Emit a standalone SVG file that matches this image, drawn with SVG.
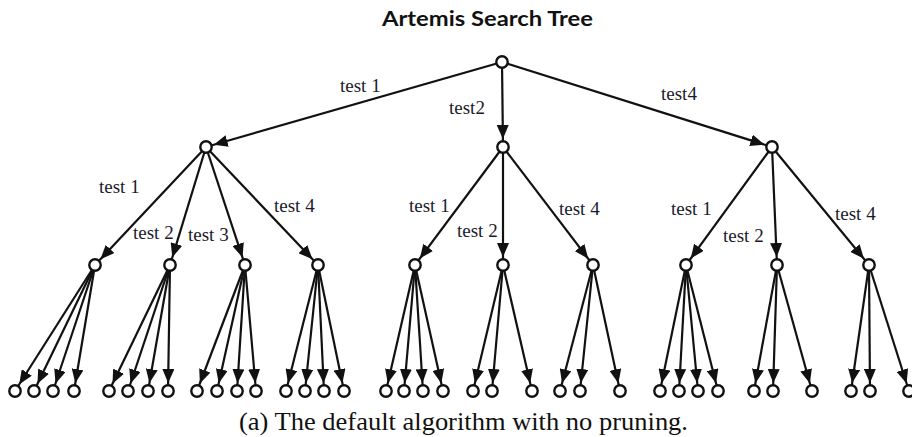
<svg xmlns="http://www.w3.org/2000/svg" width="912" height="437" viewBox="0 0 912 437">
  <style>
    .edge { stroke: #111; stroke-width: 2.2; fill: none; marker-end: url(#ah); }
    .node { fill: #fff; stroke: #111; stroke-width: 2.4; }
    .lbl { font-family: "Liberation Serif", "Times New Roman", serif; font-size: 19px; fill: #1a1a2a; }
    .title { font-family: Lato, "Liberation Sans", sans-serif; font-weight: bold; font-size: 20px; fill: #111; }
    .caption { font-family: "Liberation Serif", "Times New Roman", serif; font-size: 26px; fill: #111; }
  </style>
  <defs>
    <!-- filled arrowhead; tip sits 8px before the line end (the node centre) -->
    <marker id="ah" viewBox="0 0 14 12" refX="22" refY="6" markerWidth="14" markerHeight="12" markerUnits="userSpaceOnUse" orient="auto">
      <path d="M0,0 L14,6 L0,12 z" fill="#111"/>
    </marker>
  </defs>
  <rect width="912" height="437" fill="#fff"/>

  <text class="title" x="487.5" y="26" text-anchor="middle" textLength="211" lengthAdjust="spacingAndGlyphs">Artemis Search Tree</text>

  <g id="connectors">
    <!-- root to level 1 -->
    <line class="edge" x1="502" y1="62" x2="206" y2="147"/>
    <line class="edge" x1="502" y1="62" x2="503" y2="147"/>
    <line class="edge" x1="502" y1="62" x2="772" y2="147"/>
    <!-- level 1 to level 2 -->
    <line class="edge" x1="206" y1="147" x2="95" y2="265"/>
    <line class="edge" x1="206" y1="147" x2="170" y2="265"/>
    <line class="edge" x1="206" y1="147" x2="245" y2="265"/>
    <line class="edge" x1="206" y1="147" x2="318" y2="265"/>
    <line class="edge" x1="503" y1="147" x2="415" y2="265"/>
    <line class="edge" x1="503" y1="147" x2="503" y2="265"/>
    <line class="edge" x1="503" y1="147" x2="593" y2="265"/>
    <line class="edge" x1="772" y1="147" x2="686" y2="265"/>
    <line class="edge" x1="772" y1="147" x2="777" y2="265"/>
    <line class="edge" x1="772" y1="147" x2="869" y2="265"/>
    <!-- level 2 to leaves -->
    <line class="edge" x1="95" y1="265" x2="15" y2="391"/>
    <line class="edge" x1="95" y1="265" x2="34" y2="391"/>
    <line class="edge" x1="95" y1="265" x2="53" y2="391"/>
    <line class="edge" x1="95" y1="265" x2="74" y2="391"/>
    <line class="edge" x1="170" y1="265" x2="109" y2="391"/>
    <line class="edge" x1="170" y1="265" x2="128" y2="391"/>
    <line class="edge" x1="170" y1="265" x2="148" y2="391"/>
    <line class="edge" x1="170" y1="265" x2="168" y2="391"/>
    <line class="edge" x1="245" y1="265" x2="197" y2="391"/>
    <line class="edge" x1="245" y1="265" x2="217" y2="391"/>
    <line class="edge" x1="245" y1="265" x2="237" y2="391"/>
    <line class="edge" x1="245" y1="265" x2="256" y2="391"/>
    <line class="edge" x1="318" y1="265" x2="286" y2="391"/>
    <line class="edge" x1="318" y1="265" x2="305" y2="391"/>
    <line class="edge" x1="318" y1="265" x2="324" y2="391"/>
    <line class="edge" x1="318" y1="265" x2="344" y2="391"/>
    <line class="edge" x1="415" y1="265" x2="386" y2="391"/>
    <line class="edge" x1="415" y1="265" x2="404" y2="391"/>
    <line class="edge" x1="415" y1="265" x2="423" y2="391"/>
    <line class="edge" x1="415" y1="265" x2="443" y2="391"/>
    <line class="edge" x1="503" y1="265" x2="473" y2="391"/>
    <line class="edge" x1="503" y1="265" x2="492" y2="391"/>
    <line class="edge" x1="503" y1="265" x2="532" y2="391"/>
    <line class="edge" x1="593" y1="265" x2="560" y2="391"/>
    <line class="edge" x1="593" y1="265" x2="580" y2="391"/>
    <line class="edge" x1="593" y1="265" x2="620" y2="391"/>
    <line class="edge" x1="686" y1="265" x2="660" y2="391"/>
    <line class="edge" x1="686" y1="265" x2="679" y2="391"/>
    <line class="edge" x1="686" y1="265" x2="698" y2="391"/>
    <line class="edge" x1="686" y1="265" x2="718" y2="391"/>
    <line class="edge" x1="777" y1="265" x2="754" y2="391"/>
    <line class="edge" x1="777" y1="265" x2="773" y2="391"/>
    <line class="edge" x1="777" y1="265" x2="812" y2="391"/>
    <line class="edge" x1="869" y1="265" x2="851" y2="391"/>
    <line class="edge" x1="869" y1="265" x2="870" y2="391"/>
    <line class="edge" x1="869" y1="265" x2="909" y2="391"/>

    <!-- edge labels -->
    <text class="lbl" x="340" y="92">test 1</text>
    <text class="lbl" x="449" y="114">test2</text>
    <text class="lbl" x="661" y="100">test4</text>
    <text class="lbl" x="99" y="193">test 1</text>
    <text class="lbl" x="133" y="239">test 2</text>
    <text class="lbl" x="188" y="241">test 3</text>
    <text class="lbl" x="274" y="212">test 4</text>
    <text class="lbl" x="409" y="212">test 1</text>
    <text class="lbl" x="457" y="237">test 2</text>
    <text class="lbl" x="559" y="215">test 4</text>
    <text class="lbl" x="671" y="215">test 1</text>
    <text class="lbl" x="723" y="242">test 2</text>
    <text class="lbl" x="835" y="220">test 4</text>
  </g>

  <!-- root and inner nodes -->
  <g id="root"><circle class="node" cx="502" cy="62" r="5.7"/></g>
  <g id="n1"><circle class="node" cx="206" cy="147" r="5.7"/></g>
  <g id="n2"><circle class="node" cx="503" cy="147" r="5.7"/></g>
  <g id="n3"><circle class="node" cx="772" cy="147" r="5.7"/></g>
  <g id="n1-1"><circle class="node" cx="95" cy="265" r="5.7"/></g>
  <g id="n1-2"><circle class="node" cx="170" cy="265" r="5.7"/></g>
  <g id="n1-3"><circle class="node" cx="245" cy="265" r="5.7"/></g>
  <g id="n1-4"><circle class="node" cx="318" cy="265" r="5.7"/></g>
  <g id="n2-1"><circle class="node" cx="415" cy="265" r="5.7"/></g>
  <g id="n2-2"><circle class="node" cx="503" cy="265" r="5.7"/></g>
  <g id="n2-4"><circle class="node" cx="593" cy="265" r="5.7"/></g>
  <g id="n3-1"><circle class="node" cx="686" cy="265" r="5.7"/></g>
  <g id="n3-2"><circle class="node" cx="777" cy="265" r="5.7"/></g>
  <g id="n3-4"><circle class="node" cx="869" cy="265" r="5.7"/></g>

  <!-- leaves -->
  <g id="leaves">
    <g id="l1"><circle class="node" cx="15" cy="391" r="5.7"/></g>
    <g id="l2"><circle class="node" cx="34" cy="391" r="5.7"/></g>
    <g id="l3"><circle class="node" cx="53" cy="391" r="5.7"/></g>
    <g id="l4"><circle class="node" cx="74" cy="391" r="5.7"/></g>
    <g id="l5"><circle class="node" cx="109" cy="391" r="5.7"/></g>
    <g id="l6"><circle class="node" cx="128" cy="391" r="5.7"/></g>
    <g id="l7"><circle class="node" cx="148" cy="391" r="5.7"/></g>
    <g id="l8"><circle class="node" cx="168" cy="391" r="5.7"/></g>
    <g id="l9"><circle class="node" cx="197" cy="391" r="5.7"/></g>
    <g id="l10"><circle class="node" cx="217" cy="391" r="5.7"/></g>
    <g id="l11"><circle class="node" cx="237" cy="391" r="5.7"/></g>
    <g id="l12"><circle class="node" cx="256" cy="391" r="5.7"/></g>
    <g id="l13"><circle class="node" cx="286" cy="391" r="5.7"/></g>
    <g id="l14"><circle class="node" cx="305" cy="391" r="5.7"/></g>
    <g id="l15"><circle class="node" cx="324" cy="391" r="5.7"/></g>
    <g id="l16"><circle class="node" cx="344" cy="391" r="5.7"/></g>
    <g id="l17"><circle class="node" cx="386" cy="391" r="5.7"/></g>
    <g id="l18"><circle class="node" cx="404" cy="391" r="5.7"/></g>
    <g id="l19"><circle class="node" cx="423" cy="391" r="5.7"/></g>
    <g id="l20"><circle class="node" cx="443" cy="391" r="5.7"/></g>
    <g id="l21"><circle class="node" cx="473" cy="391" r="5.7"/></g>
    <g id="l22"><circle class="node" cx="492" cy="391" r="5.7"/></g>
    <g id="l23"><circle class="node" cx="532" cy="391" r="5.7"/></g>
    <g id="l24"><circle class="node" cx="560" cy="391" r="5.7"/></g>
    <g id="l25"><circle class="node" cx="580" cy="391" r="5.7"/></g>
    <g id="l26"><circle class="node" cx="620" cy="391" r="5.7"/></g>
    <g id="l27"><circle class="node" cx="660" cy="391" r="5.7"/></g>
    <g id="l28"><circle class="node" cx="679" cy="391" r="5.7"/></g>
    <g id="l29"><circle class="node" cx="698" cy="391" r="5.7"/></g>
    <g id="l30"><circle class="node" cx="718" cy="391" r="5.7"/></g>
    <g id="l31"><circle class="node" cx="754" cy="391" r="5.7"/></g>
    <g id="l32"><circle class="node" cx="773" cy="391" r="5.7"/></g>
    <g id="l33"><circle class="node" cx="812" cy="391" r="5.7"/></g>
    <g id="l34"><circle class="node" cx="851" cy="391" r="5.7"/></g>
    <g id="l35"><circle class="node" cx="870" cy="391" r="5.7"/></g>
    <g id="l36"><circle class="node" cx="909" cy="391" r="5.7"/></g>
  </g>

  <text class="caption" x="239" y="430" textLength="449" lengthAdjust="spacingAndGlyphs">(a) The default algorithm with no pruning.</text>
</svg>
